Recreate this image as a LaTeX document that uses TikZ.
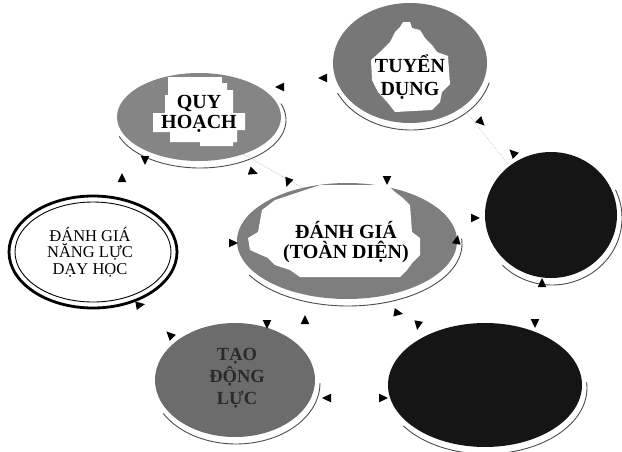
\documentclass[tikz,border=0pt]{standalone}
\usepackage{fontspec}
\setmainfont{Liberation Serif}
\usetikzlibrary{shapes.geometric}
\definecolor{planfill}{HTML}{858585}
\definecolor{recfill}{HTML}{777777}
\definecolor{evalfill}{HTML}{7E7E7E}
\definecolor{motfill}{HTML}{6C6C6C}
\definecolor{inkfill}{HTML}{151515}
\definecolor{mottext}{HTML}{2A2A2A}
% thin shadow lip under a bubble: centre x, centre y, radius x, radius y, from angle, to angle
\newcommand\bubblelip[6]{%
  \draw[rim] plot[domain=#5:#6, samples=60] ({#1+1+(#3+4)*cos(\x)},{#2+3+(#4+4)*sin(\x)});}
\begin{document}
\begin{tikzpicture}[x=1pt,y=-1pt,
  bubble/.style={ellipse, inner sep=0pt, draw=none},
  rim/.style={line width=0.9pt, draw=black!70},
  blob/.style={fill=white},
  head/.style={font=\bfseries\fontsize{20}{20}\selectfont, align=center, text=black, inner sep=0pt},
  faint/.style={densely dotted, gray!60, line width=0.6pt},
  tipmark/.pic={\fill[black] (5,0) -- (-4,4.3) -- (-4,-4.3) -- cycle;}]
\useasboundingbox (0,0) rectangle (622,451);

% bubbles
\node[bubble, fill=planfill, minimum width=164pt, minimum height=88pt] (plan) at (199,117) {};
\node[bubble, fill=recfill, minimum width=154pt, minimum height=120pt] (recruit) at (410,63) {};
\node[bubble, fill=evalfill, minimum width=220pt, minimum height=116pt] (eval) at (347,241) {};
\node[bubble, fill=white, draw=black, line width=2.8pt, minimum width=168pt, minimum height=112pt] (skill) at (93,252) {};
\draw[line width=0.9pt] (skill.center) ellipse [x radius=78pt, y radius=50pt];
\node[bubble, fill=inkfill, minimum width=132pt, minimum height=126pt] (round) at (551,215) {};
\node[bubble, fill=motfill, minimum width=160pt, minimum height=114pt] (motiv) at (235,380) {};
\node[bubble, fill=inkfill, minimum width=194pt, minimum height=124pt] (dark) at (485,385) {};

% shadow lips
\bubblelip{199}{117}{82}{44}{-20}{160}
\bubblelip{410}{63}{77}{60}{15}{155}
\bubblelip{347}{241}{110}{58}{-5}{150}
\bubblelip{551}{215}{66}{63}{-25}{135}
\bubblelip{235}{380}{80}{57}{0}{150}
\bubblelip{485}{385}{97}{62}{-5}{145}

% white patches behind the labels
\fill[blob] (168,77) -- (222,77) -- (222,83) -- (227,83) -- (227,90) -- (233,90) -- (233,113)
  -- (245,113) -- (245,130) -- (237,130) -- (237,142) -- (233,142) -- (233,146) -- (200,146)
  -- (200,142) -- (170,142) -- (170,132) -- (153,132) -- (153,113) -- (165,113) -- (165,95)
  -- (168,95) -- cycle;
\fill[blob] (403,22) -- (410,22) -- (412,28) -- (420,30) -- (425,38) -- (432,45) -- (437,52)
  -- (448,56) -- (450,84) -- (442,92) -- (440,102) -- (432,110) -- (395,112) -- (388,103)
  -- (378,92) -- (372,80) -- (371,60) -- (380,52) -- (390,42) -- (395,32) -- (400,27) -- cycle;
\fill[blob] (320,185) -- (388,185) -- (395,192) -- (403,198) -- (410,205) -- (412,232)
  -- (420,238) -- (420,255) -- (413,262) -- (407,270) -- (400,277) -- (300,277) -- (290,270)
  -- (275,265) -- (268,258) -- (250,250) -- (248,238) -- (258,232) -- (262,210) -- (275,200)
  -- (290,195) -- (305,190) -- cycle;

% labels
\node[head] (plantxt) at (plan.center) [yshift=3pt] {QUY\\HOẠCH};
\node[head, font=\bfseries\fontsize{20}{23}\selectfont] (rectxt) at (410,77) {TUYỂN\\DỤNG};
\node[head] (evaltxt) at (346,242) {ĐÁNH GIÁ\\(TOÀN DIỆN)};
\node[head, font=\fontsize{16.5}{16.5}\selectfont] (skilltxt) at (90,252) {ĐÁNH GIÁ\\NĂNG LỰC\\DẠY HỌC};
\node[head, font=\bfseries\fontsize{18.5}{22}\selectfont, text=mottext] (mottxt) at (237,378) {TẠO\\ĐỘNG\\LỰC};

% faded connectors
\draw[faint] (plan.-40) -- (eval.130);
\draw[faint] (recruit.-40) -- (round.130);

% arrow heads
\foreach \px/\py/\ang in {323/78/180, 280/87/180, 145/160/-90, 122/178/90, 253/172/-20,
    288/182/-110, 387/180/-90, 457/240/80, 481/122/-45, 513/153/135, 475/218/0,
    542/283/90, 233/243/0, 140/305/10, 267/324/-90, 305/320/90, 170/335/135,
    327/398/180, 398/313/-10, 418/325/-100, 535/323/-90, 383/398/0}
  \pic[rotate=\ang] at (\px,\py) {tipmark};
\end{tikzpicture}
\end{document}
